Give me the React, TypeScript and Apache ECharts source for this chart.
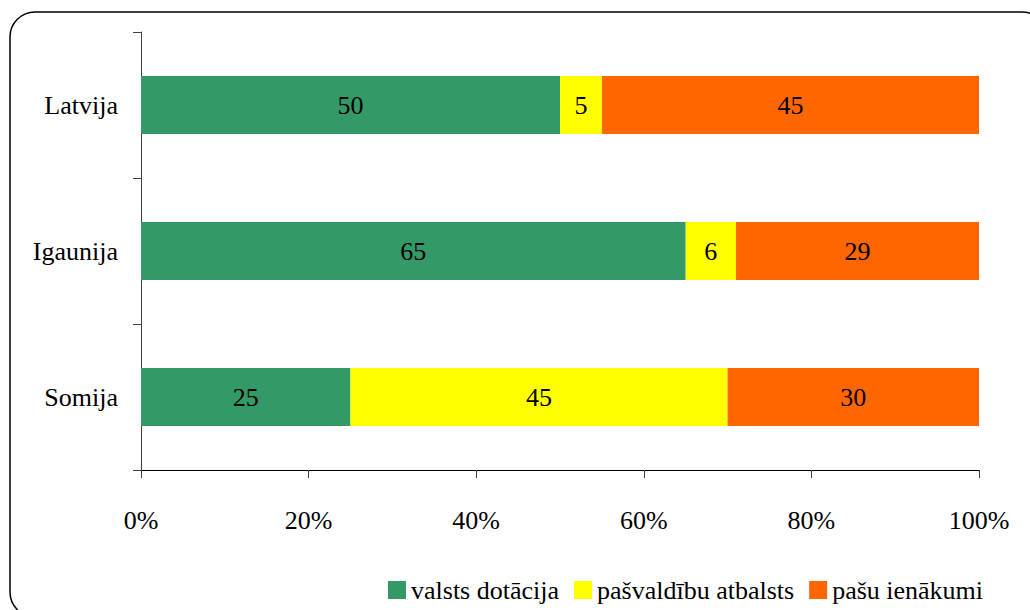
import React, { useEffect, useRef } from "react";
import * as echarts from "echarts";

const categories = ["Latvija", "Igaunija", "Somija"];
const seriesNames = ["valsts dotācija", "pašvaldību atbalsts", "pašu ienākumi"];
const valstsDotacija = [50, 65, 25];
const pasvaldibuAtbalsts = [5, 6, 45];
const pasuIenakumi = [45, 29, 30];
const colors = ["#339966", "#FFFF00", "#FF6600"];

const FONT = "Liberation Serif";

export default function App() {
  const ref = useRef<HTMLDivElement>(null);
  useEffect(() => {
    if (!ref.current) return;
    const chart = echarts.init(ref.current, undefined, { renderer: "svg" });
    const dataSets = [valstsDotacija, pasvaldibuAtbalsts, pasuIenakumi];
    const txt = { fontFamily: FONT, fontSize: 26, color: "#000" };
    chart.setOption({
      animation: false,
      textStyle: { fontFamily: FONT, fontSize: 26 },
      graphic: [
        {
          type: "rect",
          shape: { x: 10, y: 12, width: 1037, height: 605, r: 25 },
          style: { fill: "none", stroke: "#000", lineWidth: 1.5 },
          silent: true,
        },
      ],
      grid: { left: 141, right: 51, top: 32, bottom: 140, containLabel: false },
      legend: {
        left: 383,
        top: 572,
        itemWidth: 18,
        itemHeight: 18,
        itemGap: 15,
        icon: "rect",
        textStyle: { ...txt, padding: [0, 0, 0, 0] },
        data: seriesNames,
      },
      xAxis: {
        type: "value",
        min: 0,
        max: 100,
        interval: 20,
        axisLine: { show: true, lineStyle: { color: "#000", width: 1 } },
        axisTick: { show: true, length: 8, lineStyle: { color: "#404040" } },
        splitLine: { show: false },
        axisLabel: { ...txt, formatter: "{value}%", margin: 37 },
      },
      yAxis: {
        type: "category",
        inverse: true,
        data: categories,
        axisLine: { show: true, lineStyle: { color: "#404040", width: 1 } },
        axisTick: { show: true, length: 8, lineStyle: { color: "#404040" } },
        axisLabel: { ...txt, margin: 23 },
      },
      series: dataSets.map((d, i) => ({
        name: seriesNames[i],
        type: "bar",
        stack: "total",
        barWidth: 58,
        data: d,
        itemStyle: { color: colors[i] },
        label: { ...txt, show: true, position: "inside" },
      })),
    });
    return () => chart.dispose();
  }, []);
  return (
    <div
      ref={ref}
      style={{ position: "fixed", left: 0, top: 0, width: 1030, height: 610, background: "#fff" }}
    />
  );
}
